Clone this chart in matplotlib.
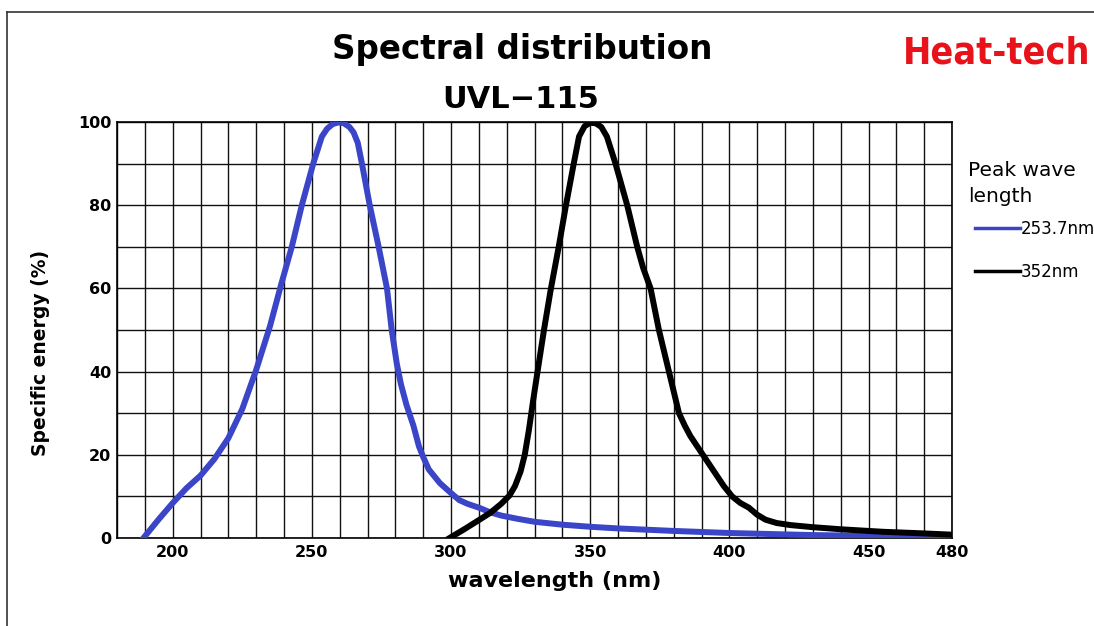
import matplotlib
matplotlib.use("Agg")
import matplotlib.pyplot as plt
import matplotlib.ticker as tick
from matplotlib.lines import Line2D
from matplotlib import font_manager

# values
wl_254 = [189.5, 195, 200, 205, 210, 215, 220, 225, 230, 235, 239, 242.8, 246.4, 250.5,
          253.6, 255.5, 257.5, 259.5, 261.5, 263.5, 265, 266.5, 268, 270.8, 274, 277,
          278.7, 280.5, 282, 284, 286.5, 288.5, 290, 292, 296, 300, 303, 306, 310, 314,
          318, 324, 330, 340, 350, 360, 380, 400, 430, 455, 480]
en_254 = [0, 4.5, 8.4, 12, 15, 19, 24, 31, 40.4, 51, 61, 70, 80, 90,
          96.5, 98.4, 99.5, 99.9, 99.7, 98.8, 97.5, 95, 90, 80, 70, 60,
          50, 42, 37, 32, 27, 22, 19.5, 16.5, 13.2, 10.8, 9.1, 8.2, 7.3, 6.2,
          5.4, 4.6, 3.9, 3.2, 2.7, 2.3, 1.7, 1.2, 0.7, 0.5, 0.3]

wl_352 = [299.5, 305, 310, 314, 318, 321, 323, 325, 326.5, 328, 329.5, 331, 333.4,
          335.8, 338.7, 341.2, 344.1, 346, 348, 350, 352, 354, 356, 359.1, 363.3,
          366.9, 369, 371.7, 374.7, 378.3, 381.9, 384, 386, 389, 392, 395, 398, 401,
          404, 407, 410, 413, 417, 422, 430, 440, 455, 470, 480]
en_352 = [0, 2.2, 4.3, 6, 8.2, 10.2, 12.5, 16, 20, 26, 33, 39.6, 50,
          59.6, 70, 79.6, 90, 96.5, 99, 99.8, 99.7, 98.8, 96.5, 90, 80,
          70, 65, 60, 50, 40, 30, 27, 24.5, 21.5, 18.5, 15.5, 12.5, 10,
          8.4, 7.3, 5.6, 4.4, 3.6, 3.1, 2.6, 2.1, 1.5, 1.1, 0.8]

x_ticks = [200, 250, 300, 350, 400, 450, 480]
y_ticks = [0, 20, 40, 60, 80, 100]
labels = ["253.7nm", "352nm"]

W, H = 1094, 626
fig = plt.figure(figsize=(W / 100, H / 100), dpi=100)
ax = fig.add_axes([117 / W, 1 - 538 / H, (952 - 117) / W, (538 - 122) / H])

l1, = ax.plot(wl_254, en_254, color="#3b45c8", lw=4.3, zorder=3)
l2, = ax.plot(wl_352, en_352, color="black", lw=4.3, zorder=4)

ax.set_xlim(180, 480)
ax.set_ylim(0, 100)
ax.set_xticks(x_ticks)
ax.set_yticks(y_ticks)
ax.xaxis.set_minor_locator(tick.MultipleLocator(10))
ax.yaxis.set_minor_locator(tick.MultipleLocator(10))
ax.grid(which="both", color="#111111", lw=1.0)
ax.set_axisbelow(True)
ax.tick_params(which="both", length=0)
ax.tick_params(axis="x", pad=5)
ax.tick_params(axis="y", pad=4)
for lab in ax.get_xticklabels() + ax.get_yticklabels():
    lab.set_family("DejaVu Sans")
    lab.set_fontweight("bold")
    lab.set_fontsize(11.5)
for s in ax.spines.values():
    s.set_color("black")
    s.set_linewidth(1.2)

ax.set_xlabel("wavelength (nm)", family="DejaVu Sans", fontweight="bold", fontsize=16)
ax.xaxis.set_label_coords((555 - 117) / (952 - 117), -0.08)
ax.set_ylabel("Specific energy (%)", family="DejaVu Sans", fontweight="bold", fontsize=13.5)
ax.yaxis.set_label_coords(-0.08, 0.445)

fig.text(522 / W, 1 - 50 / H, "Spectral distribution", family="DejaVu Sans",
         fontweight="bold", fontsize=23.5, ha="center", va="center")
fig.text(521 / W, 1 - 99 / H, "UVL\u2212115", family="DejaVu Sans",
         fontweight="bold", fontsize=22, ha="center", va="center")

# narrow bold face for the logo if one is installed
fp = font_manager.FontProperties(family="DejaVu Sans", weight="bold", stretch="condensed")
narrow = "Condensed" in font_manager.findfont(fp)
fig.text(903 / W, 1 - 63 / H, "Heat-tech", family="DejaVu Sans",
         fontstretch="condensed", fontweight="bold",
         fontsize=27 if narrow else 23, color="#e8121a", ha="left", va="baseline")

# legend: title as two lines, entries below it
fig.text(968 / W, 1 - 170 / H, "Peak wave", family="DejaVu Sans", fontsize=14.5,
         ha="left", va="center")
fig.text(968 / W, 1 - 197 / H, "length", family="DejaVu Sans", fontsize=14.5,
         ha="left", va="center")
leg = ax.legend([l1, l2], labels, loc="upper left", bbox_to_anchor=(975 / W, 1 - 220 / H),
                bbox_transform=fig.transFigure, frameon=False, fontsize=12,
                handlelength=2.7, handletextpad=0.05, labelspacing=1.5,
                borderpad=0, borderaxespad=0)
for t in leg.get_texts():
    t.set_family("DejaVu Sans")
for h in leg.legend_handles:
    h.set_linewidth(2.5)

# outer frame of the picture (left and top edge)
fig.add_artist(Line2D([7 / W, 7 / W], [0, 1 - 12 / H], color="#333333", lw=1.2))
fig.add_artist(Line2D([7 / W, 1], [1 - 12 / H, 1 - 12 / H], color="#333333", lw=1.2))

fig.savefig("out.png", dpi=100)
